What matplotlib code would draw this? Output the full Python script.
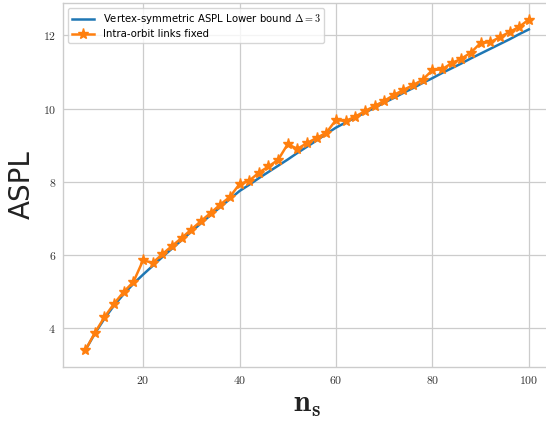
import matplotlib
matplotlib.use("Agg")
import matplotlib.pyplot as plt
from matplotlib.ticker import FuncFormatter

ns = list(range(8, 101, 2))

# lower bound (blue line)
lower_bound = [3.40, 3.86, 4.27, 4.63, 4.94, 5.22, 5.47, 5.71, 5.95, 6.18,
               6.41, 6.64, 6.87, 7.09, 7.31, 7.53, 7.75, 7.92, 8.10, 8.27,
               8.44, 8.61, 8.79, 8.96, 9.13, 9.31, 9.48, 9.62, 9.75, 9.89,
               10.02, 10.16, 10.29, 10.43, 10.56, 10.70, 10.83, 10.97, 11.10, 11.23,
               11.37, 11.50, 11.63, 11.76, 11.89, 12.03, 12.16]

# intra-orbit links fixed (orange stars)
intra_fixed = [3.40, 3.88, 4.31, 4.68, 5.00, 5.27, 5.86, 5.79, 6.03, 6.25,
               6.47, 6.70, 6.93, 7.15, 7.38, 7.59, 7.94, 8.03, 8.25, 8.42,
               8.60, 9.03, 8.90, 9.06, 9.20, 9.34, 9.69, 9.66, 9.78, 9.93,
               10.07, 10.21, 10.37, 10.51, 10.64, 10.79, 11.05, 11.07, 11.24, 11.36,
               11.53, 11.79, 11.81, 11.95, 12.09, 12.23, 12.43]

plt.rcParams['mathtext.fontset'] = 'cm'

fig = plt.figure(figsize=(5.46, 4.24), dpi=100)
# the right spine sits just past the picture edge, as in the reference
ax = fig.add_axes([0.1154, 0.1344, 0.8938, 0.8586])

ax.plot(ns, lower_bound, color='#1f77b4', linewidth=1.8,
        label=r'Vertex-symmetric ASPL Lower bound $\Delta = 3$')
ax.plot(ns, intra_fixed, color='#ff7f0e', linewidth=1.8, marker='*',
        markersize=8, label='Intra-orbit links fixed')

ax.set_xticks([20, 40, 60, 80, 100])
ax.set_yticks([4, 6, 8, 10, 12])
ax.xaxis.set_major_formatter(FuncFormatter(lambda v, p: f'${v:g}$'))
ax.yaxis.set_major_formatter(FuncFormatter(lambda v, p: f'${v:g}$'))
ax.tick_params(length=0, labelsize=8.5, colors='#333333', pad=5)

ax.grid(True, color='#cccccc', linewidth=0.9)
ax.set_axisbelow(True)
for s in ax.spines.values():
    s.set_color('#cccccc')
    s.set_linewidth(1.0)

ax.set_ylabel('ASPL', fontsize=20, color='#222222', labelpad=5)
ax.set_xlabel(r'$\mathbf{n_s}$', fontsize=22, color='#222222', labelpad=2)

leg = ax.legend(loc='upper left', fontsize=7.3, frameon=True, borderpad=0.4,
                handlelength=2.2, labelspacing=0.3)
leg.get_frame().set_edgecolor('#cccccc')

fig.savefig('out.png', dpi=100)
